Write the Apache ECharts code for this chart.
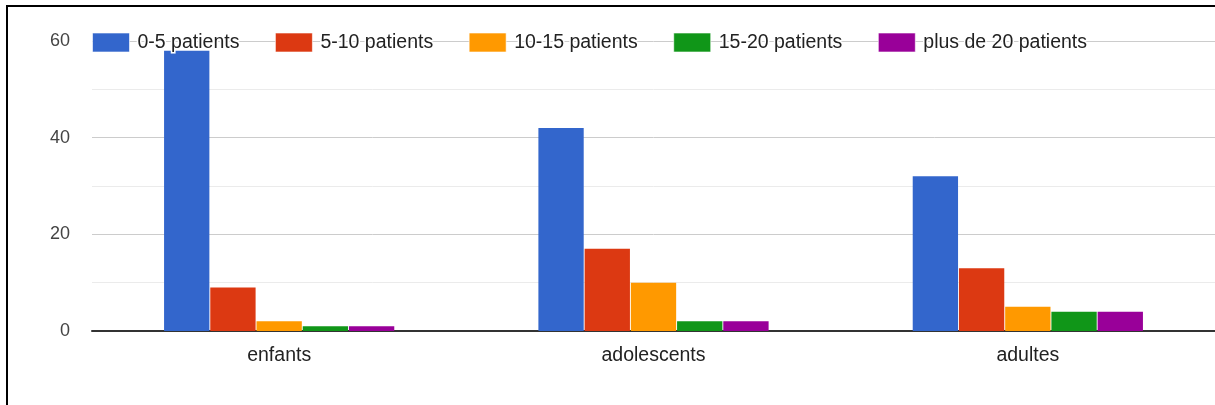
<!DOCTYPE html>
<html>
<head>
<meta charset="utf-8">
<style>
  html, body { margin: 0; padding: 0; background: #fff; }
  #chart { width: 1215px; height: 405px; }
</style>
<script src="https://cdn.jsdelivr.net/npm/echarts@6/dist/echarts.min.js"></script>
</head>
<body>
<div id="chart"></div>
<script>
// Age groups on the x axis
const categories = ['enfants', 'adolescents', 'adultes'];

// One series per caseload bracket
const seriesNames = ['0-5 patients', '5-10 patients', '10-15 patients', '15-20 patients', 'plus de 20 patients'];
const values0to5 = [58, 42, 32];
const values5to10 = [9, 17, 13];
const values10to15 = [2, 10, 5];
const values15to20 = [1, 2, 4];
const valuesOver20 = [1, 2, 4];

const yTicks = [0, 20, 40, 60];

const palette = ['#3366cc', '#dc3912', '#ff9900', '#109618', '#990099'];
const seriesValues = [values0to5, values5to10, values10to15, values15to20, valuesOver20];

const chart = echarts.init(document.getElementById('chart'));

const font = '"Liberation Sans", Arial, sans-serif';

chart.setOption({
  animation: false,
  color: palette,
  graphic: [{
    type: 'rect',
    shape: { x: 7, y: 6, width: 1300, height: 500 },
    style: { fill: 'none', stroke: '#000', lineWidth: 2 },
    silent: true,
    z: 100
  }],
  legend: {
    left: 87,
    top: 26,
    itemWidth: 37,
    itemHeight: 19,
    itemGap: 34,
    icon: 'rect',
    itemStyle: { borderColor: 'rgba(255,255,255,0.6)', borderWidth: 1 },
    textStyle: {
      fontFamily: font,
      fontSize: 19.5,
      color: '#222',
      padding: [0, 0, 0, 3],
      textBorderColor: '#fff',
      textBorderWidth: 3
    },
    data: seriesNames
  },
  grid: {
    left: 92,
    right: -3,
    top: 41,
    bottom: 74,
    containLabel: false
  },
  xAxis: {
    type: 'category',
    data: categories,
    axisTick: { show: false },
    axisLine: { lineStyle: { color: '#333', width: 2 } },
    axisLabel: { fontFamily: font, fontSize: 19.5, color: '#222', margin: 15 }
  },
  yAxis: {
    type: 'value',
    min: yTicks[0],
    max: yTicks[yTicks.length - 1],
    interval: yTicks[1] - yTicks[0],
    axisLine: { show: false },
    axisTick: { show: false },
    axisLabel: { fontFamily: font, fontSize: 18, color: '#444', margin: 22 },
    splitLine: { lineStyle: { color: '#cccccc', width: 1 } },
    minorTick: { show: false, splitNumber: 2 },
    minorSplitLine: { show: true, lineStyle: { color: '#ebebeb', width: 1 } }
  },
  series: seriesNames.map((name, i) => ({
    name: name,
    type: 'bar',
    data: seriesValues[i],
    barGap: '2%',
    barCategoryGap: '38.5%',
    itemStyle: { color: palette[i] }
  }))
});
</script>
</body>
</html>
